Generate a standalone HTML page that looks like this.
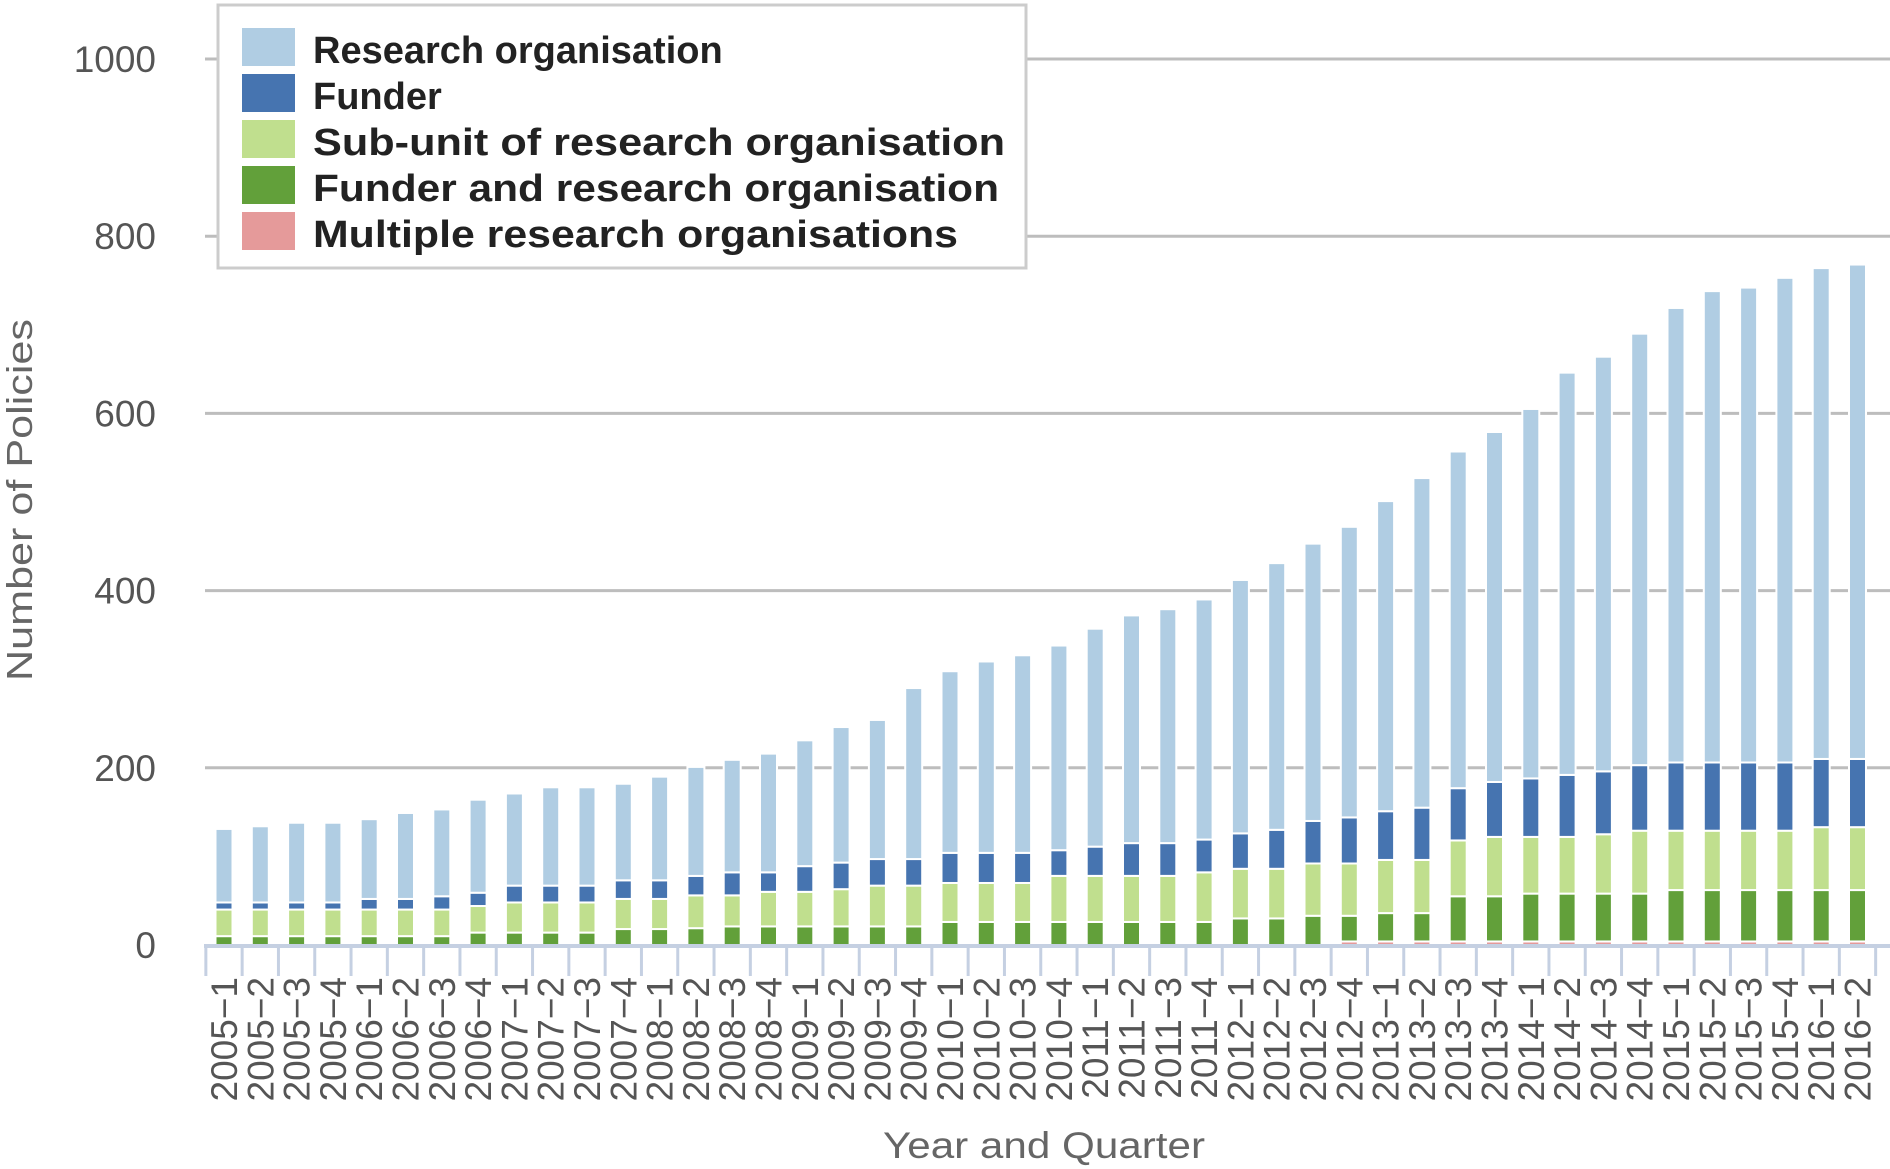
<!DOCTYPE html>
<html><head><meta charset="utf-8"><style>
html,body{margin:0;padding:0;background:#fff;}
svg{display:block;font-family:"Liberation Sans",sans-serif;}
</style></head><body>
<svg id="chart" width="1890" height="1169" viewBox="0 0 1890 1169" xmlns="http://www.w3.org/2000/svg">
<g id="grid"></g>
<g id="yticks"></g>
<g id="bars"></g>
<g id="xaxis"></g>
<text x="0" y="0" transform="translate(32,500) rotate(-90)" text-anchor="middle" font-size="36" fill="#666" textLength="362" lengthAdjust="spacingAndGlyphs">Number of Policies</text>
<text x="1044" y="1158" text-anchor="middle" font-size="37" fill="#666" textLength="322" lengthAdjust="spacingAndGlyphs">Year and Quarter</text>
<g>
  <rect x="218" y="5" width="808" height="263" fill="#fff" stroke="#ccc" stroke-width="3"/>
  <rect x="242" y="28" width="53" height="38" fill="#b0cde3"/>
  <text x="313" y="63" font-size="38" font-weight="bold" fill="#222">Research organisation</text>
  <rect x="242" y="74" width="53" height="38" fill="#4674b0"/>
  <text x="313" y="109" font-size="38" font-weight="bold" fill="#222">Funder</text>
  <rect x="242" y="120" width="53" height="38" fill="#c0df8e"/>
  <text x="313" y="155" font-size="38" font-weight="bold" fill="#222" textLength="692" lengthAdjust="spacingAndGlyphs">Sub-unit of research organisation</text>
  <rect x="242" y="166" width="53" height="38" fill="#62a03a"/>
  <text x="313" y="201" font-size="38" font-weight="bold" fill="#222" textLength="686" lengthAdjust="spacingAndGlyphs">Funder and research organisation</text>
  <rect x="242" y="212" width="53" height="38" fill="#e59a9a"/>
  <text x="313" y="247" font-size="38" font-weight="bold" fill="#222" textLength="645" lengthAdjust="spacingAndGlyphs">Multiple research organisations</text>
</g>
</svg>
<script>
const categories = ["2005−1","2005−2","2005−3","2005−4","2006−1","2006−2","2006−3","2006−4","2007−1","2007−2","2007−3","2007−4","2008−1","2008−2","2008−3","2008−4","2009−1","2009−2","2009−3","2009−4","2010−1","2010−2","2010−3","2010−4","2011−1","2011−2","2011−3","2011−4","2012−1","2012−2","2012−3","2012−4","2013−1","2013−2","2013−3","2013−4","2014−1","2014−2","2014−3","2014−4","2015−1","2015−2","2015−3","2015−4","2016−1","2016−2"];
const multipleOrgs = [0,0,0,0,0,0,0,0,0,0,0,0,0,0,0,0,0,0,0,0,0,0,0,0,0,0,0,0,0,0,0,4,4,4,4,4,4,4,4,4,4,4,4,4,4,4];
const funderAndOrg = [10,10,10,10,10,10,10,14,14,14,14,18,18,19,21,21,21,21,21,21,26,26,26,26,26,26,26,26,30,30,33,29,32,32,51,51,54,54,54,54,58,58,58,58,58,58];
const subUnit = [30,30,30,30,30,30,30,30,34,34,34,34,34,37,35,39,39,42,46,46,44,44,44,52,52,52,52,56,56,56,59,59,60,60,63,67,64,64,67,71,67,67,67,67,71,71];
const funder = [8,8,8,8,12,12,15,15,19,19,19,21,21,22,26,22,29,30,30,30,34,34,34,29,33,37,37,37,40,44,48,52,55,59,59,62,66,70,71,74,77,77,77,77,77,77];
const researchOrg = [83,86,90,90,90,97,98,105,104,111,111,109,117,123,127,134,142,153,157,193,205,216,223,231,246,257,264,271,286,301,313,328,350,372,380,395,417,454,468,487,513,532,536,547,554,558];
const yTicks = [0,200,400,600,800,1000];

const NS = "http://www.w3.org/2000/svg";
const Y0 = 945, YS = 0.886, X0 = 224, XS = 36.3, BW = 17;
function y(v){ return Y0 - v*YS; }
function x(i){ return X0 + i*XS; }
function mk(tag, attrs, parent){ const e=document.createElementNS(NS,tag); for(const k in attrs) e.setAttribute(k,attrs[k]); parent.appendChild(e); return e; }

const grid=document.getElementById('grid'), yt=document.getElementById('yticks');
yTicks.forEach(v=>{
  if(v>0){
    const l=mk('line',{x1:205,x2:1890,y1:y(v),y2:y(v),stroke:'#bdbdbd','stroke-width':3},grid);
    
    
  }
  const t=mk('text',{x:156,y:y(v)+13,'text-anchor':'end','font-size':37,fill:'#555'},yt);
  t.textContent=v;
  
  
});

const series=[
  {name:'multiple-research-organisations',vals:multipleOrgs,color:'#e59a9a'},
  {name:'funder-and-research-organisation',vals:funderAndOrg,color:'#62a03a'},
  {name:'sub-unit-of-research-organisation',vals:subUnit,color:'#c0df8e'},
  {name:'funder',vals:funder,color:'#4674b0'},
  {name:'research-organisation',vals:researchOrg,color:'#b0cde3'}
];
const bars=document.getElementById('bars');
categories.forEach((c,i)=>{
  let base=0;
  series.forEach(s=>{
    const v=s.vals[i];
    if(v>0){
      const r=mk('rect',{x:x(i)-BW/2,y:y(base+v),width:BW,height:v*YS,fill:s.color,stroke:'#fff','stroke-width':2},bars);
      
      
    }
    base+=v;
  });
});

const xa=document.getElementById('xaxis');
const axl=mk('line',{x1:204,x2:1890,y1:Y0+1,y2:Y0+1,stroke:'#c5d0e2','stroke-width':4},xa);


for(let k=0;k<=categories.length;k++){
  const tx=Math.min(x(k)-XS/2,1888);
  const tk=mk('line',{x1:tx,x2:tx,y1:Y0,y2:976,stroke:'#c5d0e2','stroke-width':3},xa);
  
  
}
categories.forEach((c,i)=>{
  const t=mk('text',{x:0,y:0,transform:'translate('+(x(i)+13)+',977) rotate(-90)','text-anchor':'end','font-size':37,fill:'#555'},xa);
  t.textContent=c;
  
  
});
</script>
</body></html>
